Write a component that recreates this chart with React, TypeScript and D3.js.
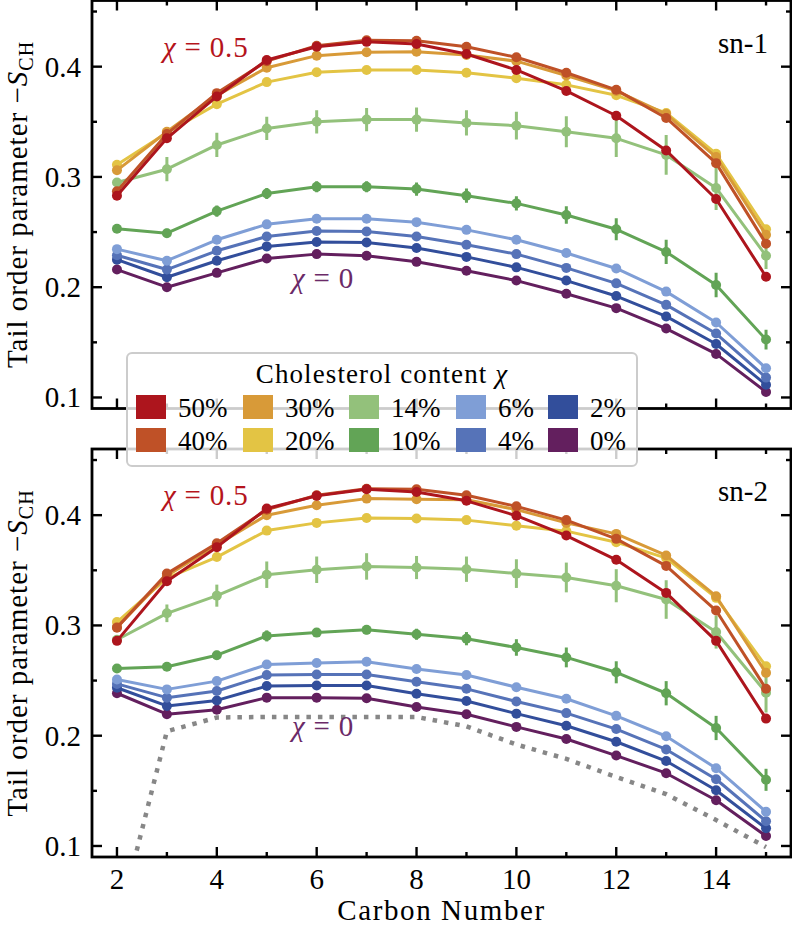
import React from 'react';
import * as d3 from 'd3';

// carbon positions along the tail
const carbons = [2, 3, 4, 5, 6, 7, 8, 9, 10, 11, 12, 13, 14, 15];
const xTicksMajor = [2, 4, 6, 8, 10, 12, 14];
const xTicksMinor = [3, 5, 7, 9, 11, 13, 15];
const yTicksMajor = [0.1, 0.2, 0.3, 0.4];
const yTicksMinor = [0.15, 0.25, 0.35, 0.45];

const seriesLabels = ['50%', '40%', '30%', '20%', '14%', '10%', '6%', '4%', '2%', '0%'];
const seriesColors = ['#ad151d', '#bf5127', '#d89a38', '#e3c444', '#93c17b', '#62a456', '#7f9ed6', '#5673b8', '#324e9b', '#631f5e'];

// sn-1 chain
const sn1Chol50 = [0.283, 0.335, 0.373, 0.406, 0.418, 0.4225, 0.4205, 0.4115, 0.397, 0.378, 0.3555, 0.324, 0.280, 0.2095];
const sn1Chol40 = [0.287, 0.339, 0.376, 0.405, 0.419, 0.424, 0.4235, 0.418, 0.4085, 0.3945, 0.379, 0.3535, 0.3125, 0.2395];
const sn1Chol30 = [0.306, 0.341, 0.374, 0.399, 0.410, 0.413, 0.4135, 0.4105, 0.405, 0.392, 0.378, 0.357, 0.318, 0.2475];
const sn1Chol20 = [0.311, 0.340, 0.366, 0.386, 0.395, 0.397, 0.397, 0.3945, 0.3895, 0.3835, 0.374, 0.358, 0.321, 0.2525];
const sn1Chol14 = [0.295, 0.307, 0.329, 0.344, 0.350, 0.352, 0.352, 0.349, 0.3465, 0.341, 0.335, 0.320, 0.290, 0.2285];
const sn1Chol10 = [0.253, 0.249, 0.269, 0.285, 0.291, 0.291, 0.289, 0.283, 0.276, 0.2655, 0.2525, 0.232, 0.202, 0.1525];
const sn1Chol6 = [0.2345, 0.224, 0.243, 0.257, 0.262, 0.262, 0.259, 0.252, 0.243, 0.231, 0.217, 0.196, 0.168, 0.1265];
const sn1Chol4 = [0.229, 0.216, 0.233, 0.246, 0.251, 0.2505, 0.246, 0.2385, 0.230, 0.2175, 0.2035, 0.184, 0.158, 0.118];
const sn1Chol2 = [0.225, 0.209, 0.224, 0.237, 0.241, 0.2405, 0.2355, 0.2275, 0.218, 0.206, 0.192, 0.1735, 0.1485, 0.1115];
const sn1Chol0 = [0.216, 0.200, 0.213, 0.226, 0.230, 0.2285, 0.223, 0.215, 0.206, 0.194, 0.181, 0.1625, 0.1395, 0.105];
const sn1Err14 = [0.004, 0.011, 0.011, 0.0105, 0.0105, 0.0105, 0.011, 0.0115, 0.0125, 0.014, 0.017, 0.018, 0.02, 0.012];
const sn1Err10 = [0.003, 0.004, 0.005, 0.005, 0.005, 0.005, 0.006, 0.0065, 0.0065, 0.008, 0.01, 0.011, 0.011, 0.009];

// sn-2 chain
const sn2Chol50 = [0.286, 0.340, 0.371, 0.406, 0.4175, 0.4235, 0.421, 0.413, 0.3995, 0.3815, 0.3595, 0.3295, 0.286, 0.2155];
const sn2Chol40 = [0.298, 0.347, 0.3745, 0.405, 0.418, 0.424, 0.4235, 0.418, 0.408, 0.3955, 0.3785, 0.354, 0.3135, 0.2425];
const sn2Chol30 = [0.2985, 0.345, 0.373, 0.400, 0.409, 0.415, 0.4145, 0.414, 0.405, 0.393, 0.383, 0.3635, 0.3265, 0.257];
const sn2Chol20 = [0.303, 0.343, 0.362, 0.386, 0.393, 0.3975, 0.397, 0.3955, 0.3905, 0.3855, 0.3755, 0.361, 0.325, 0.263];
const sn2Chol14 = [0.287, 0.311, 0.327, 0.346, 0.3505, 0.3535, 0.3525, 0.351, 0.347, 0.3435, 0.336, 0.3235, 0.294, 0.239];
const sn2Chol10 = [0.261, 0.2625, 0.273, 0.2905, 0.2935, 0.296, 0.292, 0.288, 0.280, 0.271, 0.2575, 0.2385, 0.207, 0.160];
const sn2Chol6 = [0.251, 0.242, 0.2495, 0.2645, 0.266, 0.267, 0.2605, 0.255, 0.244, 0.2335, 0.218, 0.1995, 0.1705, 0.131];
const sn2Chol4 = [0.247, 0.2345, 0.2405, 0.255, 0.2555, 0.2555, 0.249, 0.2425, 0.231, 0.2205, 0.206, 0.1875, 0.1605, 0.1225];
const sn2Chol2 = [0.2435, 0.227, 0.232, 0.245, 0.2455, 0.2455, 0.238, 0.2315, 0.220, 0.209, 0.1945, 0.177, 0.1505, 0.116];
const sn2Chol0 = [0.2385, 0.2195, 0.2235, 0.2345, 0.2345, 0.234, 0.226, 0.2195, 0.208, 0.197, 0.182, 0.166, 0.1415, 0.109];
const sn2Err14 = [0.003, 0.008, 0.01, 0.012, 0.012, 0.012, 0.0105, 0.0115, 0.013, 0.0135, 0.015, 0.0175, 0.015, 0.018];
const sn2Err10 = [0.002, 0.003, 0.004, 0.005, 0.004, 0.004, 0.005, 0.006, 0.0075, 0.009, 0.01, 0.011, 0.011, 0.01];
// dotted reference curve (sn-2 only)
const sn2Reference = [0.025, 0.204, 0.2165, 0.217, 0.217, 0.217, 0.217, 0.2085, 0.192, 0.179, 0.1625, 0.147, 0.1235, 0.099];

const zeros = carbons.map(() => 0);
const sn1Series = [sn1Chol50, sn1Chol40, sn1Chol30, sn1Chol20, sn1Chol14, sn1Chol10, sn1Chol6, sn1Chol4, sn1Chol2, sn1Chol0];
const sn1Errors = [zeros, zeros, zeros, zeros, sn1Err14, sn1Err10, zeros, zeros, zeros, zeros];
const sn2Series = [sn2Chol50, sn2Chol40, sn2Chol30, sn2Chol20, sn2Chol14, sn2Chol10, sn2Chol6, sn2Chol4, sn2Chol2, sn2Chol0];
const sn2Errors = [zeros, zeros, zeros, zeros, sn2Err14, sn2Err10, zeros, zeros, zeros, zeros];

const W = 792;
const H = 928;
const left = 92;
const right = 791;
const panelH = 408;
const FONT = 'Liberation Serif, DejaVu Serif, serif';

const x = d3.scaleLinear().domain([1.5, 15.5]).range([left, right]);

function Panel({ top, series, errors, reference, tag, id }) {
  const y = d3.scaleLinear().domain([0.09, 0.46]).range([top + panelH, top]);
  const bottom = top + panelH;
  const line = d3.line<number>().x((_, i) => x(carbons[i])).y(v => y(v));
  const order = d3.range(series.length).reverse();

  return (
    <g>
      <defs>
        <clipPath id={id}>
          <rect x={left} y={top} width={right - left} height={panelH} />
        </clipPath>
      </defs>
      <g clipPath={`url(#${id})`}>
        {reference && (
          <path d={line(reference)} fill="none" stroke="#878787" strokeWidth={4.5}
            strokeDasharray="4.5 7" />
        )}
        {order.map(k => (
          <g key={k}>
            <path d={line(series[k])} fill="none" stroke={seriesColors[k]} strokeWidth={3} strokeLinejoin="round" />
            {series[k].map((v, i) => errors[k][i] > 0 ? (
              <line key={'e' + i} x1={x(carbons[i])} x2={x(carbons[i])}
                y1={y(v - errors[k][i])} y2={y(v + errors[k][i])}
                stroke={seriesColors[k]} strokeWidth={3} />
            ) : null)}
            {series[k].map((v, i) => (
              <circle key={i} cx={x(carbons[i])} cy={y(v)} r={5} fill={seriesColors[k]} />
            ))}
          </g>
        ))}
      </g>

      {/* ticks, inward on all four sides */}
      <g stroke="#000" strokeWidth={2.4}>
        {xTicksMajor.map(t => (
          <g key={'xM' + t}>
            <line x1={x(t)} x2={x(t)} y1={bottom} y2={bottom - 10} />
            <line x1={x(t)} x2={x(t)} y1={top} y2={top + 10} />
          </g>
        ))}
        {xTicksMinor.map(t => (
          <g key={'xm' + t}>
            <line x1={x(t)} x2={x(t)} y1={bottom} y2={bottom - 5} />
            <line x1={x(t)} x2={x(t)} y1={top} y2={top + 5} />
          </g>
        ))}
        {yTicksMajor.map(t => (
          <g key={'yM' + t}>
            <line x1={left} x2={left + 10} y1={y(t)} y2={y(t)} />
            <line x1={right} x2={right - 10} y1={y(t)} y2={y(t)} />
          </g>
        ))}
        {yTicksMinor.map(t => (
          <g key={'ym' + t}>
            <line x1={left} x2={left + 5} y1={y(t)} y2={y(t)} />
            <line x1={right} x2={right - 5} y1={y(t)} y2={y(t)} />
          </g>
        ))}
      </g>
      <rect x={left} y={top} width={right - left} height={panelH} fill="none" stroke="#000" strokeWidth={2.8} />

      <g style={{ fontFamily: FONT }} fontSize={29} fill="#000">
        {yTicksMajor.map(t => (
          <text key={t} x={left - 11} y={y(t) + 10} textAnchor="end">{d3.format('.1f')(t)}</text>
        ))}
        <text x={768} y={top + 52} textAnchor="end">{tag}</text>
        <text transform={`translate(27,${top + panelH / 2}) rotate(-90)`} textAnchor="middle" letterSpacing={1}>
          Tail order parameter −<tspan fontStyle="italic">S</tspan>
          <tspan fontSize={20} dy={6}>CH</tspan>
        </text>
        <text x={163} y={top + 56} fill="#b5141c" letterSpacing={0.8}>
          <tspan fontStyle="italic">χ</tspan> = 0.5
        </text>
        <text x={292} y={top + 287} fill="#6b2a68" letterSpacing={0.8}>
          <tspan fontStyle="italic">χ</tspan> = 0
        </text>
      </g>
    </g>
  );
}

function Legend() {
  const colX = [136, 243, 349, 456, 548];
  const rowY = [395, 428];
  return (
    <g style={{ fontFamily: FONT }} fontSize={27}>
      <rect x={127} y={353} width={510} height={113} rx={5} fill="#fff" fillOpacity={0.8}
        stroke="#cccccc" strokeWidth={2} />
      <text x={382} y={383} textAnchor="middle" letterSpacing={1.1}>
        Cholesterol content  <tspan fontStyle="italic">χ</tspan>
      </text>
      {seriesLabels.map((lab, k) => {
        const c = Math.floor(k / 2);
        const r = k % 2;
        return (
          <g key={lab}>
            <rect x={colX[c]} y={rowY[r]} width={30} height={24} fill={seriesColors[k]} />
            <text x={colX[c] + 42} y={rowY[r] + 22}>{lab}</text>
          </g>
        );
      })}
    </g>
  );
}

export default function App() {
  return (
    <div style={{ position: 'absolute', left: 0, top: 0 }}>
      <svg width={W} height={H} viewBox={`0 0 ${W} ${H}`} style={{ display: 'block', background: '#fff' }}>
        <Panel id="clip1" top={0.5} series={sn1Series} errors={sn1Errors} reference={null} tag="sn-1" />
        <Panel id="clip2" top={449} series={sn2Series} errors={sn2Errors} reference={sn2Reference} tag="sn-2" />
        <g style={{ fontFamily: FONT }} fontSize={29}>
          {xTicksMajor.map(t => (
            <text key={t} x={x(t)} y={889} textAnchor="middle">{t}</text>
          ))}
          <text x={(left + right) / 2} y={920} textAnchor="middle" letterSpacing={1.6}>Carbon Number</text>
        </g>
        <Legend />
      </svg>
    </div>
  );
}
